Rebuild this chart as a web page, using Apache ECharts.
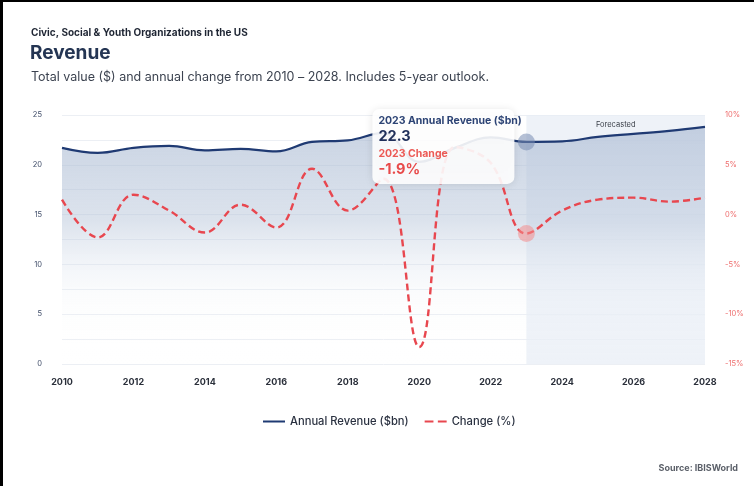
<!DOCTYPE html>
<html>
<head>
<meta charset="utf-8">
<script src="https://cdn.jsdelivr.net/npm/echarts@6/dist/echarts.min.js"></script>
<style>
  html, body { margin: 0; padding: 0; background: #fff; }
  #chart { width: 754px; height: 486px; box-sizing: border-box; border-top: 2px solid #000; border-left: 3px solid #000; }
</style>
</head>
<body>
<div id="chart"></div>
<script>
var years = ['2010','2011','2012','2013','2014','2015','2016','2017','2018','2019','2020','2021','2022','2023','2024','2025','2026','2027','2028'];
var revenue = [21.7, 21.2, 21.7, 21.9, 21.45, 21.6, 21.35, 22.3, 22.45, 23.2, 20.3, 21.7, 22.75, 22.3, 22.35, 22.8, 23.1, 23.4, 23.8];
var change = [1.5, -2.3, 2.0, 0.4, -1.8, 1.0, -1.3, 4.6, 0.4, 3.6, -13.3, 6.8, 5.2, -1.9, 0.4, 1.5, 1.7, 1.3, 1.7];
var forecastStart = '2023';
var forecastEnd = '2028';
var highlightIndex = 13;
var leftTicks = [0, 5, 10, 15, 20, 25];

var FONT = 'Inter, Roboto, "Open Sans", sans-serif';
var NAVY = '#1f3a73';
var RED = '#e8474f';

var chart = echarts.init(document.getElementById('chart'), null, { renderer: 'canvas' });

var option = {
  animation: false,
  textStyle: { fontFamily: FONT },
  title: [
    { text: 'Civic, Social & Youth Organizations in the US', left: 23, top: 21,
      textStyle: { fontSize: 10, fontWeight: 'bold', color: '#1e2533', fontFamily: FONT } },
    { text: 'Revenue', left: 22, top: 37,
      textStyle: { fontSize: 19, fontWeight: 'bold', color: '#243553', fontFamily: FONT } },
    { text: 'Total value ($) and annual change from 2010 \u2013 2028. Includes 5-year outlook.', left: 23, top: 64,
      textStyle: { fontSize: 12.5, fontWeight: 'normal', color: '#3c4350', fontFamily: FONT } },
    { text: 'Source: IBISWorld', right: 11, top: 457,
      textStyle: { fontSize: 9, fontWeight: 'bold', color: '#5a5f68', fontFamily: FONT } }
  ],
  legend: {
    top: 409, left: 255,
    itemWidth: 22, itemHeight: 10, itemGap: 16,
    textStyle: { fontSize: 11.2, color: '#2a3140', fontFamily: FONT, fontWeight: 500 },
    data: [
      { name: 'Annual Revenue ($bn)', icon: 'path://M0,4 L22,4 L22,6 L0,6 Z', itemStyle: { color: NAVY } },
      { name: 'Change (%)', icon: 'path://M0,4 L8,4 L8,6 L0,6 Z M12,4 L20,4 L20,6 L12,6 Z', itemStyle: { color: RED } }
    ]
  },
  grid: { left: 59, right: 49, top: 113, bottom: 122 },
  xAxis: {
    type: 'category', data: years, boundaryGap: false,
    axisLine: { show: false }, axisTick: { show: false },
    axisLabel: { interval: 1, margin: 14, fontSize: 9, fontWeight: 'bold', color: '#2a2f3a', fontFamily: FONT },
    splitLine: { show: false }
  },
  yAxis: [
    {
      type: 'value', min: 0, max: 25, interval: 2.5,
      axisLine: { show: false }, axisTick: { show: false },
      axisLabel: {
        margin: 20, fontSize: 7.5, color: '#3f4c68', fontFamily: FONT,
        formatter: function (v) { return leftTicks.indexOf(v) >= 0 ? String(v) : ''; }
      },
      splitLine: { lineStyle: { color: '#eceff4', width: 1 } }
    },
    {
      type: 'value', min: -15, max: 10, interval: 5,
      axisLine: { show: false }, axisTick: { show: false },
      axisLabel: { margin: 20, fontSize: 7.5, color: '#ee6d6d', fontFamily: FONT, formatter: '{value}%' },
      splitLine: { show: false }
    }
  ],
  series: [
    {
      name: 'Annual Revenue ($bn)', type: 'line', data: revenue, yAxisIndex: 0,
      smooth: 0.4, symbol: 'none', z: 3,
      lineStyle: { color: NAVY, width: 2.2 },
      itemStyle: { color: NAVY },
      areaStyle: {
        color: new echarts.graphic.LinearGradient(0, 0, 0, 1, [
          { offset: 0, color: 'rgba(165,182,208,0.85)' },
          { offset: 0.4, color: 'rgba(178,193,215,0.65)' },
          { offset: 0.72, color: 'rgba(230,236,244,0.2)' },
          { offset: 1, color: 'rgba(255,255,255,0)' }
        ])
      },
      markArea: {
        silent: true,
        itemStyle: { color: 'rgba(232,237,245,0.75)' },
        label: { show: true, position: 'insideTop', distance: 6, fontSize: 7.5, color: '#3a3f48', fontFamily: FONT },
        data: [[{ xAxis: forecastStart, name: 'Forecasted' }, { xAxis: forecastEnd }]]
      },
      markPoint: {
        silent: true, symbol: 'circle', symbolSize: 17, label: { show: false },
        itemStyle: { color: 'rgba(120,140,178,0.55)' },
        data: [{ coord: [years[highlightIndex], revenue[highlightIndex]] }]
      }
    },
    {
      name: 'Change (%)', type: 'line', data: change, yAxisIndex: 1,
      smooth: 0.4, symbol: 'none', z: 4,
      lineStyle: { color: RED, width: 2.4, type: [7, 4] },
      itemStyle: { color: RED },
      markPoint: {
        silent: true, symbol: 'circle', symbolSize: 17, label: { show: false },
        itemStyle: { color: 'rgba(244,140,140,0.55)' },
        data: [{ coord: [years[highlightIndex], change[highlightIndex]] }]
      }
    }
  ]
};
chart.setOption(option);

// Static tooltip card anchored to the highlighted 2023 revenue point
var p = chart.convertToPixel({ xAxisIndex: 0, yAxisIndex: 0 }, [highlightIndex, revenue[highlightIndex]]);
var bx = p[0] - 154, by = p[1] - 33;
var Z = 200;
chart.setOption({
  graphic: [
    { type: 'rect', z: Z, left: bx, top: by, shape: { width: 142, height: 75, r: 7 },
      style: { fill: 'rgba(255,255,255,0.90)', shadowBlur: 8, shadowColor: 'rgba(0,0,0,0.12)', shadowOffsetY: 1 } },
    { type: 'text', z: Z + 1, left: bx + 6, top: by + 6, style: { text: years[highlightIndex] + ' Annual Revenue ($bn)', fontSize: 10.5, fontWeight: 'bold', fill: '#2d4475', fontFamily: FONT } },
    { type: 'text', z: Z + 1, left: bx + 6, top: by + 20, style: { text: revenue[highlightIndex].toFixed(1), fontSize: 14.5, fontWeight: 'bold', fill: '#1f2f5a', fontFamily: FONT } },
    { type: 'text', z: Z + 1, left: bx + 6, top: by + 39, style: { text: years[highlightIndex] + ' Change', fontSize: 10.5, fontWeight: 'bold', fill: '#ec5a55', fontFamily: FONT } },
    { type: 'text', z: Z + 1, left: bx + 6, top: by + 53, style: { text: change[highlightIndex].toFixed(1) + '%', fontSize: 14.5, fontWeight: 'bold', fill: '#e84a4a', fontFamily: FONT } }
  ]
});
</script>
</body>
</html>
